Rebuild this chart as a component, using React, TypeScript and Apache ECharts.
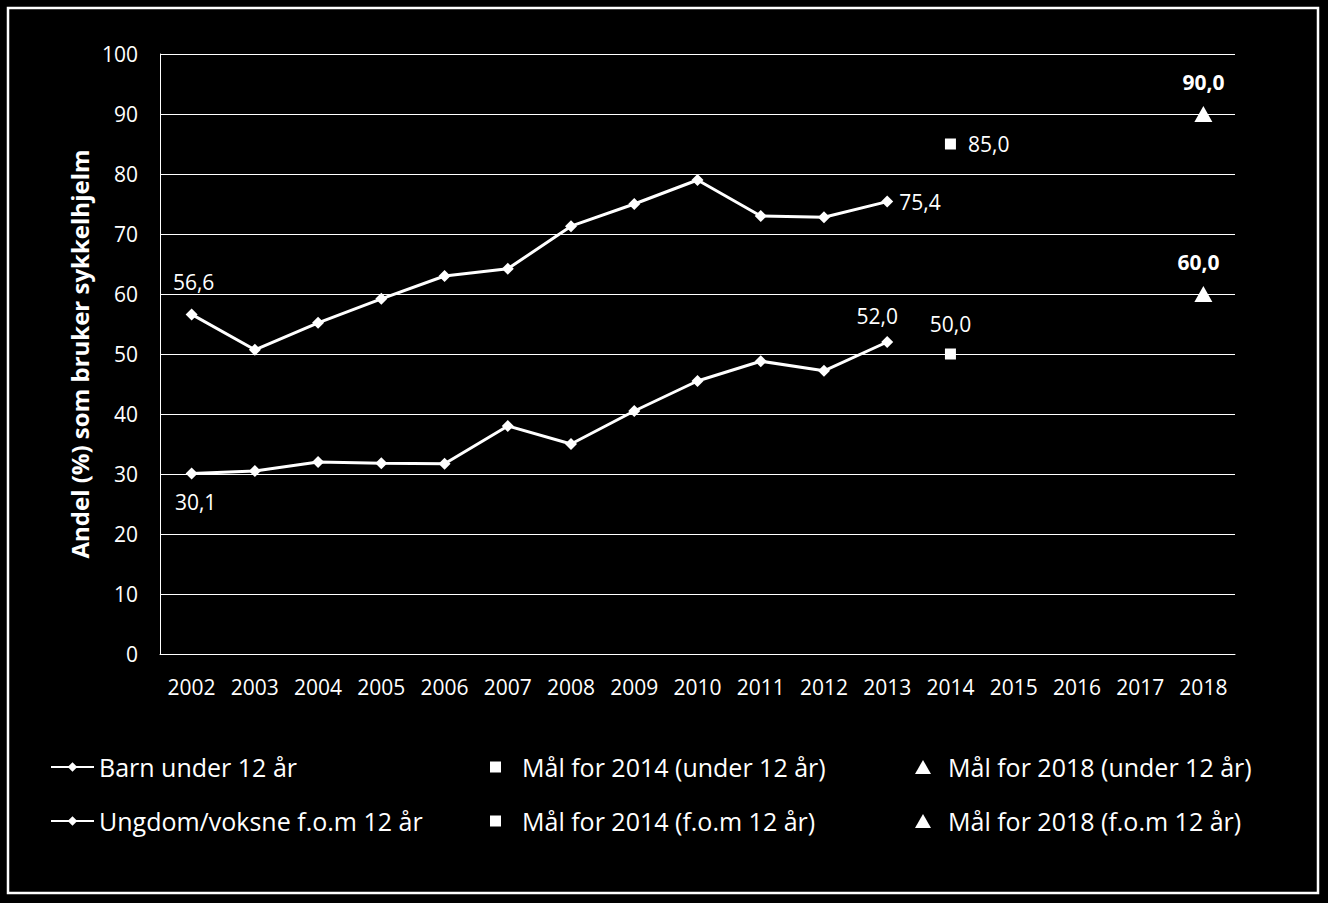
import React, { useEffect, useRef } from "react";
import * as echarts from "echarts";

const years = ["2002","2003","2004","2005","2006","2007","2008","2009","2010","2011","2012","2013","2014","2015","2016","2017","2018"];
const barnUnder12 = [56.6, 50.7, 55.2, 59.2, 63.0, 64.2, 71.3, 75.0, 79.0, 73.0, 72.8, 75.4];
const ungdomVoksne = [30.1, 30.5, 32.0, 31.8, 31.7, 38.0, 35.0, 40.5, 45.5, 48.8, 47.2, 52.0];
const maal2014Under = 85.0;
const maal2014Fom = 50.0;
const maal2018Under = 90.0;
const maal2018Fom = 60.0;
const yTicks = [0, 10, 20, 30, 40, 50, 60, 70, 80, 90, 100];

const FONT = "'Open Sans', 'Noto Sans', sans-serif";
const fmt = (v: number) => v.toFixed(1).replace(".", ",");

export default function App() {
  const ref = useRef<HTMLDivElement>(null);
  useEffect(() => {
    if (!ref.current) return;
    const chart = echarts.init(ref.current, null, { renderer: "svg" });
    const lastIdx = barnUnder12.length - 1;
    const barnData = barnUnder12.map((v, i) => {
      if (i === 0) return { value: v, label: { show: true, position: "top", distance: 16, offset: [2, 0] } };
      if (i === lastIdx) return { value: v, label: { show: true, position: "right", distance: 6 } };
      return v;
    });
    const ungData = ungdomVoksne.map((v, i) => {
      if (i === 0) return { value: v, label: { show: true, position: "bottom", distance: 12, offset: [4, 0] } };
      if (i === lastIdx) return { value: v, label: { show: true, position: "top", distance: 10, offset: [-10, 0] } };
      return v;
    });
    const lbl = { color: "#fff", opacity: 1, fontFamily: FONT, fontSize: 21, formatter: (p: any) => fmt(p.value[1] ?? p.value) };
    const lineLbl = { color: "#fff", fontFamily: FONT, fontSize: 21, formatter: (p: any) => fmt(p.value) };
    const legendText = { color: "#fff", fontFamily: FONT, fontSize: 25, lineHeight: 28 };
    const option: any = {
      animation: false,
      backgroundColor: "#000",
      textStyle: { fontFamily: FONT },
      graphic: [
        { type: "rect", shape: { x: 8, y: 8, width: 1310, height: 885 }, style: { fill: "none", stroke: "#fff", lineWidth: 2.5 } },
      ],
      grid: { left: 160, right: 93, top: 54, bottom: 249 },
      xAxis: {
        type: "category",
        data: years,
        boundaryGap: true,
        axisLine: { show: true, lineStyle: { color: "#fff", width: 1 } },
        axisTick: { show: false },
        axisLabel: { color: "#fff", fontFamily: FONT, fontSize: 21, margin: 22, interval: 0 },
        splitLine: { show: false },
      },
      yAxis: {
        type: "value",
        min: 0,
        max: 100,
        interval: 10,
        name: "Andel (%) som bruker sykkelhjelm",
        nameLocation: "middle",
        nameGap: 68,
        nameTextStyle: { color: "#fff", fontFamily: FONT, fontSize: 24, fontWeight: "bold" },
        axisLine: { show: true, lineStyle: { color: "#fff", width: 1 } },
        axisTick: { show: false },
        axisLabel: { color: "#fff", fontFamily: FONT, fontSize: 21, margin: 22, formatter: (v: number) => (yTicks.includes(v) ? String(v) : "") },
        splitLine: { show: true, lineStyle: { color: "#fff", width: 1 } },
      },
      legend: [
        {
          orient: "vertical",
          left: 50,
          top: 753,
          padding: 0,
          itemWidth: 43,
          itemHeight: 12,
          itemGap: 26,
          formatter: (n: string) => "{s|}" + n,
          textStyle: { ...legendText, rich: { s: { width: 0 } } },
          data: ["Barn under 12 år", "Ungdom/voksne f.o.m 12 år"],
        },
        {
          orient: "vertical",
          left: 490,
          top: 753,
          padding: 0,
          itemWidth: 11,
          itemHeight: 11,
          itemGap: 26,
          formatter: (n: string) => "{s|}" + n,
          textStyle: { ...legendText, rich: { s: { width: 16 } } },
          data: [
            { name: "Mål for 2014 (under 12 år)", icon: "rect" },
            { name: "Mål for 2014 (f.o.m 12 år)", icon: "rect" },
          ],
        },
        {
          orient: "vertical",
          left: 915,
          top: 753,
          padding: 0,
          itemWidth: 16,
          itemHeight: 14,
          itemGap: 26,
          formatter: (n: string) => "{s|}" + n,
          textStyle: { ...legendText, rich: { s: { width: 12 } } },
          data: [
            { name: "Mål for 2018 (under 12 år)", icon: "triangle" },
            { name: "Mål for 2018 (f.o.m 12 år)", icon: "triangle" },
          ],
        },
      ],
      series: [
        {
          name: "Barn under 12 år",
          type: "line",
          data: barnData,
          symbol: "diamond",
          symbolSize: 12,
          lineStyle: { color: "#fff", width: 3 },
          itemStyle: { color: "#fff", opacity: 1 },
          label: { ...lineLbl, show: false },
        },
        {
          name: "Ungdom/voksne f.o.m 12 år",
          type: "line",
          data: ungData,
          symbol: "diamond",
          symbolSize: 12,
          lineStyle: { color: "#fff", width: 3 },
          itemStyle: { color: "#fff", opacity: 1 },
          label: { ...lineLbl, show: false },
        },
        {
          name: "Mål for 2014 (under 12 år)",
          type: "scatter",
          data: [["2014", maal2014Under]],
          symbol: "rect",
          symbolSize: 11,
          itemStyle: { color: "#fff", opacity: 1 },
          label: { ...lbl, show: true, position: "right", distance: 12 },
        },
        {
          name: "Mål for 2014 (f.o.m 12 år)",
          type: "scatter",
          data: [["2014", maal2014Fom]],
          symbol: "rect",
          symbolSize: 11,
          itemStyle: { color: "#fff", opacity: 1 },
          label: { ...lbl, show: true, position: "top", distance: 14 },
        },
        {
          name: "Mål for 2018 (under 12 år)",
          type: "scatter",
          data: [["2018", maal2018Under]],
          symbol: "triangle",
          symbolSize: [18, 16],
          itemStyle: { color: "#fff", opacity: 1 },
          label: { ...lbl, show: true, position: "top", distance: 14, fontWeight: "bold" },
        },
        {
          name: "Mål for 2018 (f.o.m 12 år)",
          type: "scatter",
          data: [["2018", maal2018Fom]],
          symbol: "triangle",
          symbolSize: [18, 16],
          itemStyle: { color: "#fff", opacity: 1 },
          label: { ...lbl, show: true, position: "top", distance: 14, offset: [-5, 0], fontWeight: "bold" },
        },
      ],
    };
    chart.setOption(option);
    return () => chart.dispose();
  }, []);
  return (
    <div style={{ position: "fixed", left: 0, top: 0, width: 1328, height: 903, background: "#000" }}>
      <div ref={ref} style={{ width: 1328, height: 903 }} />
    </div>
  );
}
